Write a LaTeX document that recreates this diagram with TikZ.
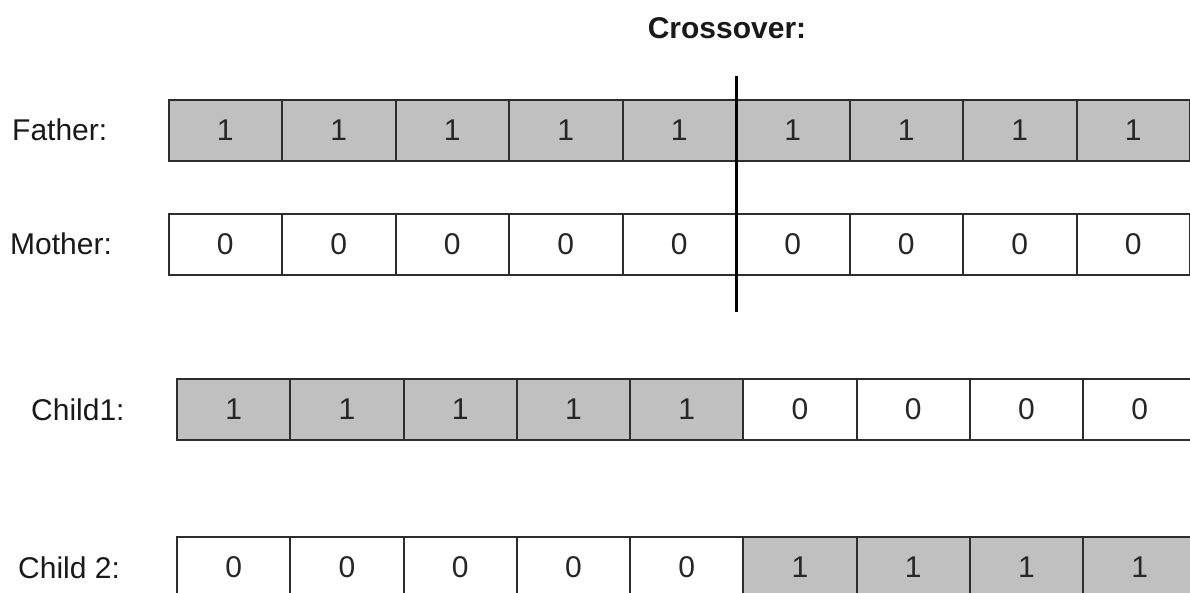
\documentclass[tikz,border=0pt]{standalone}
\usepackage{fontspec}
\setmainfont{Liberation Sans}
\usepackage{tikz}
\usetikzlibrary{positioning}
\definecolor{genegray}{RGB}{192,192,192}
\definecolor{geneline}{RGB}{45,45,45}

\begin{document}
\begin{tikzpicture}[
    x=1pt, y=-1pt,
    gene/.style={
      rectangle, draw=geneline, line width=2pt, fill=#1,
      minimum width=113.5pt, minimum height=61pt, inner sep=0pt,
      font=\fontsize{30}{36}\selectfont, text=black!85
    },
    gene/.default=white,
    rowlabel/.style={anchor=west, inner sep=0pt, font=\fontsize{30}{36}\selectfont, text=black!90},
    cut/.style={line width=3pt, black},
  ]
  \useasboundingbox (0,0) rectangle (1190,592);

  %% --- Parents ---
  \foreach \i in {1,...,9} {
    \node[gene=genegray] (f\i) at ({225.25+113.5*(\i-1)},130) {1};
    \node[gene]          (m\i) at ({225.25+113.5*(\i-1)},244) {0};
  }

  %% --- Children ---
  \foreach \i in {1,...,5} {
    \node[gene=genegray] (a\i) at ({233.75+113.25*(\i-1)},409.5) {1};
    \node[gene]          (b\i) at ({233.75+113.25*(\i-1)},567.5) {0};
  }
  \foreach \i in {6,...,9} {
    \node[gene]          (a\i) at ({233.75+113.25*(\i-1)},409.5) {0};
    \node[gene=genegray] (b\i) at ({233.75+113.25*(\i-1)},567.5) {1};
  }

  %% --- Row labels ---
  \node[rowlabel] (father) at (12,130)   {Father:};
  \node[rowlabel] (mother) at (10,244)   {Mother:};
  \node[rowlabel] (child1) at (31,409.5) {Child1:};
  \node[rowlabel] (child2) at (18,567.5) {Child 2:};

  %% --- Crossover point ---
  \node[font=\bfseries\fontsize{30}{36}\selectfont, text=black!90] (xlabel) at (727,28) {Crossover:};
  \coordinate (cuttop) at (736,76);
  \coordinate (cutbot) at (736,312);
  \draw[cut] (cuttop) -- (cutbot);
\end{tikzpicture}
\end{document}
